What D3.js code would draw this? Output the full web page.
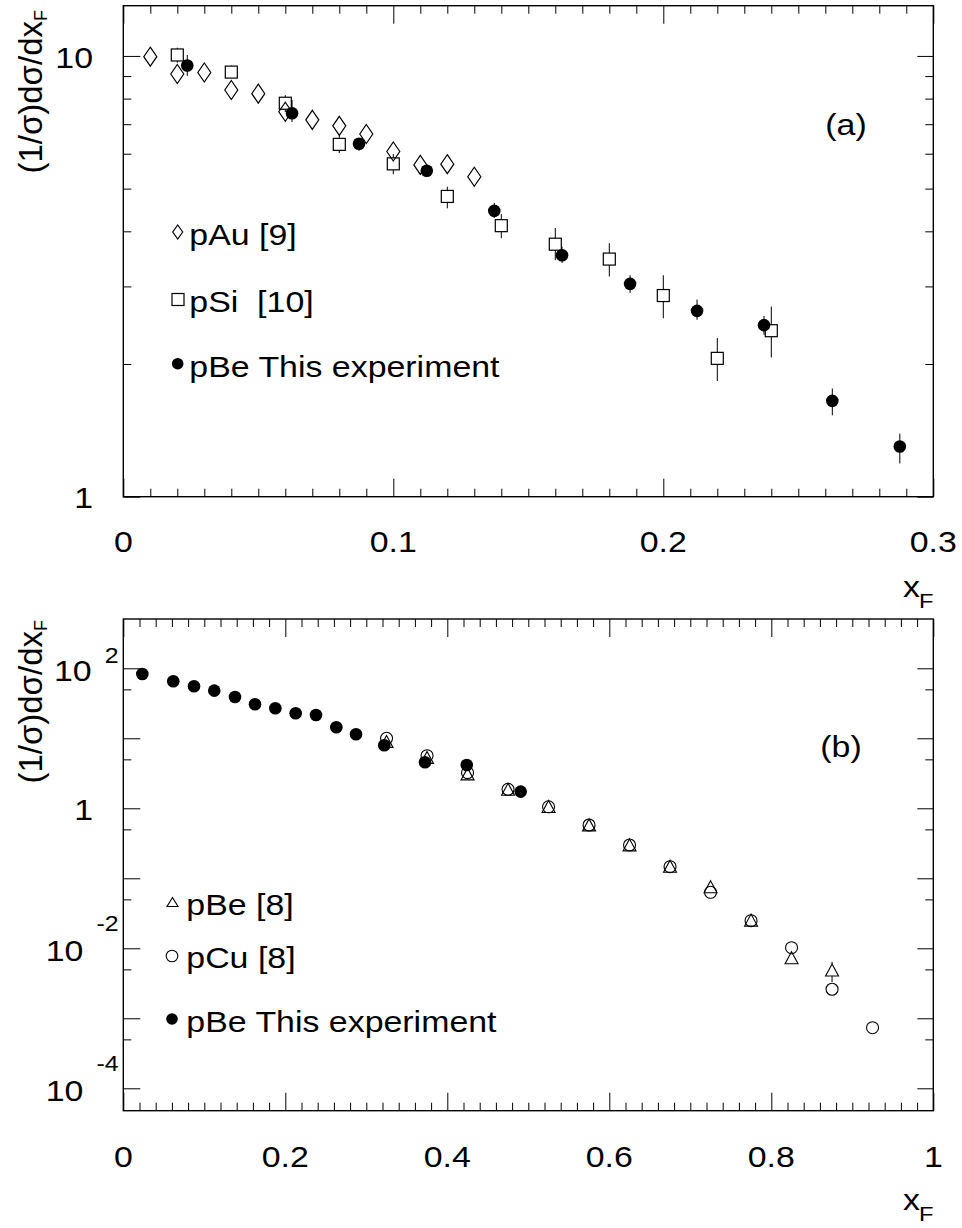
<!DOCTYPE html>
<html><head><meta charset="utf-8">
<script src="https://cdn.jsdelivr.net/npm/d3@7"></script>
<style>
body{margin:0;background:#fff}
text{font-family:"Liberation Sans",Arial,Helvetica,sans-serif;fill:#000}
</style>
</head><body>
<svg id="c" width="962" height="1228"></svg>
<script>
// ---------------- DATA ----------------
// Panel (a)
const topXTicks = [0, 0.1, 0.2, 0.3];
const topXTickLabels = ["0", "0.1", "0.2", "0.3"];
const topYTicks = [1, 10];
const topYTickLabels = ["1", "10"];

const pAuX = [0.01, 0.02, 0.03, 0.04, 0.05, 0.06, 0.07, 0.08, 0.09, 0.10, 0.11, 0.12, 0.13];
const pAuY = [9.96, 9.10, 9.17, 8.37, 8.21, 7.47, 7.16, 6.94, 6.65, 6.07, 5.66, 5.68, 5.32];

const pSiX  = [0.02, 0.04, 0.06, 0.08, 0.10, 0.12, 0.14, 0.16, 0.18, 0.20, 0.22, 0.24];
const pSiY  = [10.05, 9.19, 7.81, 6.30, 5.69, 4.80, 4.12, 3.74, 3.46, 2.86, 2.06, 2.38];
const pSiLo = [9.65, 8.89, 7.46, 6.02, 5.39, 4.51, 3.86, 3.44, 3.16, 2.54, 1.83, 2.07];
const pSiHi = [10.44, 9.51, 8.15, 6.60, 5.99, 5.05, 4.38, 4.07, 3.76, 3.18, 2.29, 2.70];

const pBeTopX  = [0.0237, 0.0625, 0.0873, 0.1124, 0.1374, 0.1625, 0.1877, 0.2125, 0.2373, 0.2626, 0.2876];
const pBeTopY  = [9.51, 7.41, 6.32, 5.49, 4.45, 3.53, 3.04, 2.64, 2.45, 1.65, 1.30];
const pBeTopLo = [9.01, 7.08, 6.09, 5.31, 4.29, 3.39, 2.90, 2.52, 2.33, 1.53, 1.19];
const pBeTopHi = [10.05, 7.95, 6.51, 5.66, 4.64, 3.69, 3.18, 2.80, 2.57, 1.76, 1.39];

// Panel (b)
const botXTicks = [0, 0.2, 0.4, 0.6, 0.8, 1];
const botXTickLabels = ["0", "0.2", "0.4", "0.6", "0.8", "1"];
const botYLabelValues = [100, 1, 0.01, 0.0001];
const botYLabelBase = ["10", "1", "10", "10"];
const botYLabelExp = ["2", "", "-2", "-4"];

const pBeBotX = [0.0235, 0.0617, 0.0873, 0.1123, 0.1379, 0.1626, 0.1877, 0.2128, 0.2379, 0.263, 0.2873, 0.3222, 0.3725, 0.424, 0.4906];
const pBeBotY = [82.9, 65.2, 55.3, 47.9, 38.9, 30.6, 26.8, 22.8, 21.5, 14.4, 11.4, 7.94, 4.54, 4.15, 1.73];

const triX  = [0.325, 0.375, 0.425, 0.475, 0.525, 0.575, 0.625, 0.675, 0.725, 0.775, 0.825, 0.875];
const triY  = [8.85, 5.23, 3.04, 1.83, 1.04, 0.568, 0.294, 0.146, 0.0743, 0.0248, 0.0072, 0.00479];
const triLo = [8.4, 4.95, 2.88, 1.74, 0.99, 0.54, 0.279, 0.139, 0.0700, 0.0233, 0.0060, 0.00330];
const triHi = [9.3, 5.5, 3.2, 1.92, 1.09, 0.596, 0.309, 0.153, 0.0790, 0.0263, 0.0088, 0.00640];

const circX = [0.325, 0.375, 0.425, 0.475, 0.525, 0.575, 0.625, 0.675, 0.725, 0.775, 0.825, 0.875, 0.925];
const circY = [10.0, 5.64, 3.23, 1.87, 1.05, 0.577, 0.299, 0.1465, 0.0631, 0.0248, 0.0102, 0.0026, 0.000734];

const legendTop = ["pAu [9]", "pSi  [10]", "pBe This experiment"];
const legendBot = ["pBe [8]", "pCu [8]", "pBe This experiment"];

// ---------------- DRAWING ----------------
const svg = d3.select("#c");
svg.append("rect").attr("width", 962).attr("height", 1228).attr("fill", "#fff");

const FS = 30, SX = 1.13;
function htext(g, x, y, s, anchor, fs) {
  return g.append("text")
    .attr("transform", `translate(${x},${y}) scale(${SX},1)`)
    .attr("text-anchor", anchor || "middle")
    .attr("font-size", fs || FS)
    .style("white-space", "pre")
    .attr("xml:space", "preserve")
    .text(s);
}
function tickAxis(g, axisFn, scale, values, size, tx, ty) {
  g.append("g").attr("transform", `translate(${tx},${ty})`)
    .call(axisFn(scale).tickValues(values).tickSize(size).tickFormat(""))
    .call(a => a.select(".domain").remove())
    .selectAll("line").attr("stroke", "#000").attr("stroke-width", 1);
}
function diamond(g, x, y, w, h) {
  g.append("path").attr("d", `M${x},${y - h}L${x + w},${y}L${x},${y + h}L${x - w},${y}Z`)
    .attr("fill", "none").attr("stroke", "#000").attr("stroke-width", 1.2);
}
function square(g, x, y, s) {
  g.append("rect").attr("x", x - s).attr("y", y - s).attr("width", 2 * s).attr("height", 2 * s)
    .attr("fill", "none").attr("stroke", "#000").attr("stroke-width", 1.2);
}
function dot(g, x, y, r) {
  g.append("circle").attr("cx", x).attr("cy", y).attr("r", r).attr("fill", "#000");
}
function ring(g, x, y, r) {
  g.append("circle").attr("cx", x).attr("cy", y).attr("r", r)
    .attr("fill", "none").attr("stroke", "#000").attr("stroke-width", 1.1);
}
function tri(g, x, y, w, h) {
  g.append("path").attr("d", `M${x},${y - h * 0.55}L${x + w},${y + h * 0.45}L${x - w},${y + h * 0.45}Z`)
    .attr("fill", "none").attr("stroke", "#000").attr("stroke-width", 1.1);
}
function vline(g, x, y1, y2) {
  if (y2 - y1 < 0.5) return;
  g.append("line").attr("x1", x).attr("x2", x).attr("y1", y1).attr("y2", y2)
    .attr("stroke", "#000").attr("stroke-width", 1);
}
function yLabel(g, x, yEnd) {
  const t = g.append("text")
    .attr("transform", `translate(${x},${yEnd}) rotate(-90)`)
    .attr("text-anchor", "end").attr("font-size", 33);
  t.append("tspan").text("(1/σ)dσ/dx");
  t.append("tspan").attr("font-size", 18).attr("dy", 5).text("F");
}
function xLabel(g, x, y) {
  htext(g, x, y, "x", "start", FS);
  htext(g, x + 16, y + 11, "F", "start", 21);
}

// ===== Panel (a) =====
const xT = d3.scaleLinear().domain([0, 0.3]).range([123.3, 933.3]);
const yT = d3.scaleLog().domain([1, 13]).range([496.7, 5.7]);
const gA = svg.append("g");

const xMinorT = d3.range(1, 30).filter(i => i % 10 !== 0).map(i => i / 100);
const yMinorT = d3.range(2, 10);
const [xa0, xa1] = xT.range(), [ya0, ya1] = yT.range();

tickAxis(gA, d3.axisBottom, xT, xMinorT, -8, 0, ya0);
tickAxis(gA, d3.axisBottom, xT, topXTicks, -18, 0, ya0);
tickAxis(gA, d3.axisTop, xT, xMinorT, -8, 0, ya1);
tickAxis(gA, d3.axisTop, xT, topXTicks, -18, 0, ya1);
tickAxis(gA, d3.axisLeft, yT, yMinorT, -8, xa0, 0);
tickAxis(gA, d3.axisLeft, yT, topYTicks, -17, xa0, 0);
tickAxis(gA, d3.axisRight, yT, yMinorT, -8, xa1, 0);
tickAxis(gA, d3.axisRight, yT, topYTicks, -16, xa1, 0);

gA.append("rect").attr("x", xa0).attr("y", ya1).attr("width", xa1 - xa0).attr("height", ya0 - ya1)
  .attr("fill", "none").attr("stroke", "#000").attr("stroke-width", 1.4);

topXTicks.forEach((v, i) => htext(gA, xT(v), 551.7, topXTickLabels[i], "middle"));
topYTicks.forEach((v, i) => htext(gA, 93, yT(v) + 11.7, topYTickLabels[i], "end"));
yLabel(gA, 42, 10);
xLabel(gA, 903, 597);
htext(gA, 846, 135, "(a)", "middle");

// pAu diamonds
pAuX.forEach((v, i) => diamond(gA, xT(v), yT(pAuY[i]), 6.5, 9.5));
// pSi squares with error bars
pSiX.forEach((v, i) => {
  const x = xT(v), y = yT(pSiY[i]);
  vline(gA, x, yT(pSiHi[i]), y - 6);
  vline(gA, x, y + 6, yT(pSiLo[i]));
  square(gA, x, y, 6);
});
// pBe filled circles
pBeTopX.forEach((v, i) => {
  const x = xT(v);
  vline(gA, x, yT(pBeTopHi[i]), yT(pBeTopLo[i]));
  dot(gA, x, yT(pBeTopY[i]), 6.3);
});

// legend (a)
diamond(gA, 177.7, 232, 5, 7);
htext(gA, 189.3, 245, legendTop[0], "start");
square(gA, 178, 299.5, 6);
htext(gA, 189.3, 311.7, legendTop[1], "start");
dot(gA, 177.7, 363.7, 5.8);
htext(gA, 189.3, 376.7, legendTop[2], "start");

// ===== Panel (b) =====
const xB = d3.scaleLinear().domain([0, 1]).range([123.3, 933.3]);
const yB = d3.scaleLog().domain([Math.pow(10, -4.32), Math.pow(10, 2.704)]).range([1110.7, 619]);
const gB = svg.append("g");
const [xb0, xb1] = xB.range(), [yb0, yb1] = yB.range();

const xMinorB = d3.range(1, 50).filter(i => i % 10 !== 0).map(i => i / 50);
const yMajorB = d3.range(-4, 3).map(k => Math.pow(10, k));
const yMinorB = d3.range(-4, 2).map(k => 5 * Math.pow(10, k));

tickAxis(gB, d3.axisBottom, xB, xMinorB, -8, 0, yb0);
tickAxis(gB, d3.axisBottom, xB, botXTicks, -18, 0, yb0);
tickAxis(gB, d3.axisTop, xB, xMinorB, -8, 0, yb1);
tickAxis(gB, d3.axisTop, xB, botXTicks, -18, 0, yb1);
tickAxis(gB, d3.axisLeft, yB, yMinorB, -8, xb0, 0);
tickAxis(gB, d3.axisLeft, yB, yMajorB, -17, xb0, 0);
tickAxis(gB, d3.axisRight, yB, yMinorB, -8, xb1, 0);
tickAxis(gB, d3.axisRight, yB, yMajorB, -16, xb1, 0);

gB.append("rect").attr("x", xb0).attr("y", yb1).attr("width", xb1 - xb0).attr("height", yb0 - yb1)
  .attr("fill", "none").attr("stroke", "#000").attr("stroke-width", 1.4);

botXTicks.forEach((v, i) => htext(gB, xB(v), 1166.7, botXTickLabels[i], "middle"));
botYLabelValues.forEach((v, i) => {
  const ty = yB(v);
  const exp = botYLabelExp[i];
  if (!exp) { htext(gB, 93, ty + 11.7, botYLabelBase[i], "end"); return; }
  const e = htext(gB, 118.5, ty + 13 - (exp.startsWith("-") ? 30 : 18), exp, "end", 22);
  const ew = e.node().getComputedTextLength() * SX;
  htext(gB, 118.5 - ew - 13, ty + 13, botYLabelBase[i], "end");
});
yLabel(gB, 42, 620);
xLabel(gB, 903, 1210);
htext(gB, 841, 757, "(b)", "middle");

triX.forEach((v, i) => {
  const x = xB(v), y = yB(triY[i]);
  vline(gB, x, yB(triHi[i]), y - 6.5);
  vline(gB, x, y + 5.5, yB(triLo[i]));
  tri(gB, x, y, 6.5, 12);
});
circX.forEach((v, i) => ring(gB, xB(v), yB(circY[i]), 6));
pBeBotX.forEach((v, i) => dot(gB, xB(v), yB(pBeBotY[i]), 6.3));

// legend (b)
tri(gB, 172.5, 902.5, 5.5, 9);
htext(gB, 186.3, 915, legendBot[0], "start");
ring(gB, 172, 956, 5.8);
htext(gB, 186.3, 968.3, legendBot[1], "start");
dot(gB, 172, 1019, 5.8);
htext(gB, 186.3, 1031.7, legendBot[2], "start");
</script>
</body></html>
